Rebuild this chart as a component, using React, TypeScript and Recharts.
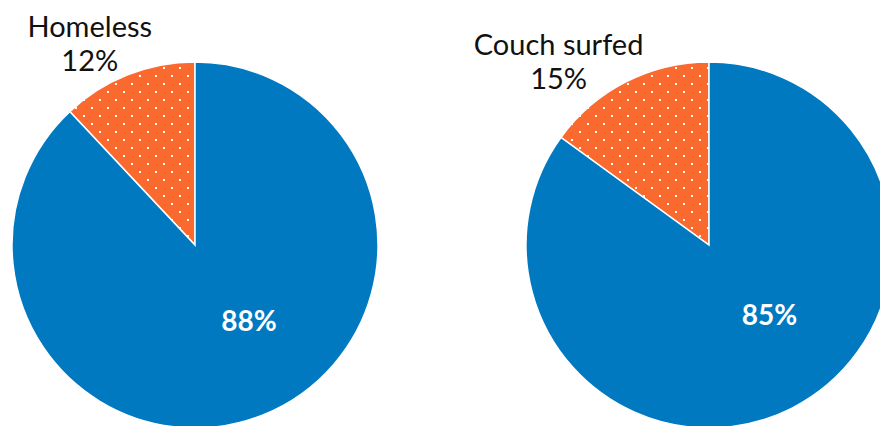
import React from 'react';
import { PieChart, Pie, Cell } from 'recharts';

// two pies: share with the experience vs. the rest
const categories = ['Homeless', 'Couch surfed'];
const experiencedPct = [12, 15];
const restPct = [88, 85];

const ORANGE = '#FA6A2E';
const BLUE = '#0079C1';
const FONT = 'Lato, "Open Sans", sans-serif';

// where each pie sits and where its labels go (fractions of radius from center)
const pies = [
  { cx: 195, outLabel: [-0.575, -1.138], inLabel: [0.295, 0.41] },
  { cx: 709, outLabel: [-0.822, -1.038], inLabel: [0.33, 0.375] },
];

const makeLabel = (name: string, pos: typeof pies[number]) => (props: any) => {
  const { cx, cy, outerRadius, index, value } = props;
  if (index === 0) {
    const x = cx + outerRadius * pos.outLabel[0];
    const y = cy + outerRadius * pos.outLabel[1];
    return (
      <text x={x} y={y} textAnchor="middle" fill="#111" fontFamily={FONT} fontSize={29}>
        <tspan x={x} dy={0}>{name}</tspan>
        <tspan x={x} dy={34}>{value}%</tspan>
      </text>
    );
  }
  const x = cx + outerRadius * pos.inLabel[0];
  const y = cy + outerRadius * pos.inLabel[1];
  return (
    <text
      x={x}
      y={y}
      textAnchor="middle"
      dominantBaseline="central"
      fill="#fff"
      fontFamily={FONT}
      fontWeight={700}
      fontSize={28}
    >
      {value}%
    </text>
  );
};

const App = () => {
  return (
    <div style={{ position: 'fixed', left: 0, top: 0, width: 880, height: 426, background: '#fff' }}>
      <PieChart width={880} height={426} margin={{ top: 0, right: 0, bottom: 0, left: 0 }}>
        <defs>
          <pattern id="dots" width={16} height={16} patternUnits="userSpaceOnUse">
            <rect width={16} height={16} fill={ORANGE} />
            <rect x={3} y={3} width={2} height={2} fill="#fff" />
            <rect x={11} y={11} width={2} height={2} fill="#fff" />
          </pattern>
        </defs>
        {categories.map((name, i) => {
          const data = [
            { name, value: experiencedPct[i] },
            { name: 'Other', value: restPct[i] },
          ];
          return (
            <Pie
              key={name}
              data={data}
              dataKey="value"
              cx={pies[i].cx}
              cy={245}
              outerRadius={183}
              startAngle={90}
              endAngle={450}
              stroke="#fff"
              strokeWidth={1.5}
              labelLine={false}
              label={makeLabel(name, pies[i])}
              isAnimationActive={false}
            >
              <Cell fill="url(#dots)" />
              <Cell fill={BLUE} />
            </Pie>
          );
        })}
      </PieChart>
    </div>
  );
};

export default App;
